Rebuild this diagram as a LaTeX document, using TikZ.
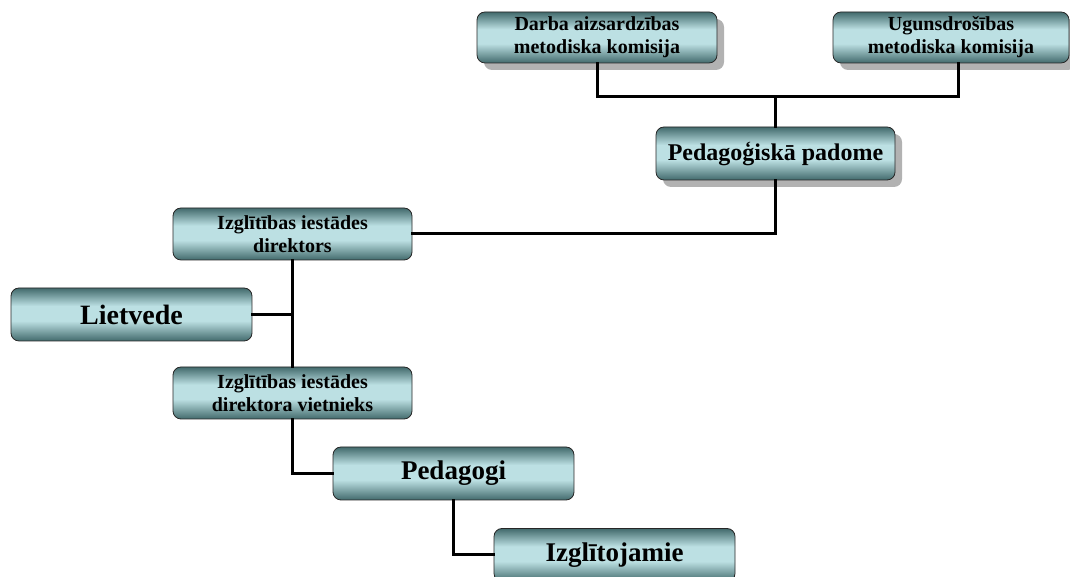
\documentclass[tikz,border=0pt]{standalone}
\usepackage{fontspec}
\setmainfont{Liberation Serif}
\usetikzlibrary{shadows,calc}
\definecolor{boxdark}{HTML}{426A6C}
\definecolor{boxlight}{HTML}{BCE0E3}
\pgfdeclareverticalshading{boxshade}{100bp}{color(0bp)=(boxdark); color(25bp)=(boxdark); color(44bp)=(boxlight); color(58bp)=(boxlight); color(75bp)=(boxdark); color(100bp)=(boxdark)}
\begin{document}
\begin{tikzpicture}[x=1pt,y=1pt,
  orgbox/.style={rectangle, rounded corners=8pt, draw=black!85, line width=0.8pt,
    shading=boxshade,
    align=center, inner sep=0pt, text=black},
  shadowed/.style={drop shadow={shadow xshift=7pt, shadow yshift=-7pt, fill=black!30, opacity=1}},
  small/.style={font=\fontsize{20}{23}\selectfont\bfseries},
  big/.style={font=\fontsize{27}{30}\selectfont\bfseries},
  conn/.style={line width=3pt, line cap=rect}]
\useasboundingbox (0,0) rectangle (1070,577);
% nodes
\node[orgbox, shadowed, small, minimum width=240pt, minimum height=51pt] (darba) at (597,539.5) {Darba aizsardzības\\metodiska komisija};
\node[orgbox, shadowed, small, minimum width=236pt, minimum height=51pt] (ugun) at (951,539.5) {Ugunsdrošības\\metodiska komisija};
\node[orgbox, shadowed, font=\fontsize{24}{27}\selectfont\bfseries, minimum width=239pt, minimum height=53pt] (ped) at (775.5,423.5) {Pedagoģiskā padome};
\node[orgbox, small, minimum width=239pt, minimum height=52pt] (dir) at (292.5,343) {Izglītības iestādes\\direktors};
\node[orgbox, font=\fontsize{28}{31}\selectfont\bfseries, minimum width=241pt, minimum height=53pt] (liet) at (131.5,262.5) {Lietvede};
\node[orgbox, small, minimum width=239pt, minimum height=52pt] (viet) at (292.5,184) {Izglītības iestādes\\direktora vietnieks};
\node[orgbox, big, minimum width=241pt, minimum height=53pt] (pedg) at (453.5,103.5) {Pedagogi};
\node[orgbox, big, minimum width=241pt, minimum height=53pt] (izgl) at (614.5,22) {Izglītojamie};
% connectors
\coordinate (ugunc) at ($(ugun.south)+(7,0)$);
\coordinate (topjoin) at (775.5,480);
\draw[conn] (darba.south) |- (topjoin) -| (ugunc);
\draw[conn] (topjoin) -- (ped.north);
\draw[conn] (ped.south) |- (dir.east);
\draw[conn] (dir.south) -- (viet.north);
\draw[conn] (liet.east) -- (dir.south |- liet.east);
\draw[conn] (viet.south) |- (pedg.west);
\draw[conn] (pedg.south) |- (izgl.west);
\end{tikzpicture}
\end{document}
